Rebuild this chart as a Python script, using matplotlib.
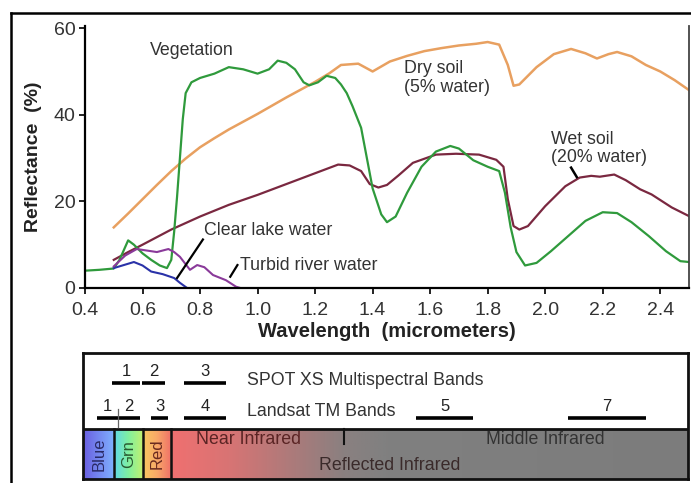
import numpy as np
import matplotlib
matplotlib.use("Agg")
import matplotlib.pyplot as plt
from matplotlib.lines import Line2D
from matplotlib.colors import to_rgb

plt.rcParams['font.family'] = ['Liberation Sans', 'DejaVu Sans']

# ---------------- data ----------------
veg_w = [0.40, 0.45, 0.50, 0.52, 0.55, 0.57, 0.60, 0.63, 0.66, 0.685, 0.70, 0.71, 0.72, 0.73,
         0.74, 0.75, 0.77, 0.80, 0.85, 0.90, 0.95, 1.00, 1.04, 1.07, 1.10, 1.13, 1.16, 1.18,
         1.21, 1.24, 1.27, 1.29, 1.31, 1.33, 1.36, 1.38, 1.40, 1.43, 1.45, 1.48, 1.52, 1.57,
         1.62, 1.67, 1.70, 1.75, 1.80, 1.84, 1.86, 1.88, 1.90, 1.93, 1.97, 2.02, 2.08, 2.14,
         2.20, 2.25, 2.30, 2.36, 2.42, 2.47, 2.50]
veg_r = [4.0, 4.2, 4.5, 6.5, 11.0, 10.0, 8.0, 6.5, 5.2, 4.6, 6.5, 13.0, 21.0, 30.0,
         39.0, 45.0, 47.5, 48.5, 49.5, 51.0, 50.5, 49.5, 50.5, 52.5, 52.0, 50.5, 47.5, 46.8,
         47.5, 49.0, 48.5, 47.0, 45.0, 42.0, 37.0, 30.0, 23.0, 17.0, 15.2, 16.5, 22.0, 28.0,
         31.5, 32.8, 32.2, 29.5, 28.0, 27.0, 22.0, 14.0, 8.3, 5.2, 5.8, 8.5, 12.0, 15.5,
         17.5, 17.3, 15.2, 12.0, 8.5, 6.2, 6.0]

dry_w = [0.50, 0.55, 0.60, 0.65, 0.70, 0.75, 0.80, 0.85, 0.90, 0.95, 1.00, 1.05, 1.10, 1.15,
         1.20, 1.25, 1.29, 1.35, 1.40, 1.46, 1.52,
         1.58, 1.64, 1.70, 1.76, 1.80, 1.84, 1.87, 1.89, 1.91, 1.94, 1.97, 2.03, 2.09, 2.14,
         2.18, 2.22, 2.25, 2.30, 2.35, 2.40, 2.45, 2.50]
dry_r = [14.0, 17.2, 20.5, 23.8, 27.0, 29.9, 32.5, 34.6, 36.6, 38.4, 40.2, 42.1, 44.0, 45.8,
         47.6, 49.6, 51.5, 51.8, 50.0, 52.3, 53.6,
         54.7, 55.4, 56.0, 56.4, 56.8, 56.2, 51.5, 46.7, 47.0, 49.0, 51.0, 54.0, 55.2, 54.2,
         53.0, 54.0, 54.5, 53.5, 51.5, 50.0, 48.0, 45.7]

wet_w = [0.50, 0.55, 0.60, 0.70, 0.80, 0.90, 1.00, 1.10, 1.20, 1.28, 1.32, 1.36, 1.39, 1.42,
         1.45, 1.49, 1.54, 1.62, 1.69, 1.77, 1.83, 1.855, 1.87, 1.89, 1.91, 1.94, 2.00, 2.07,
         2.12, 2.16, 2.19, 2.24, 2.28, 2.33, 2.37, 2.44, 2.50]
wet_r = [6.5, 8.3, 10.0, 13.5, 16.5, 19.2, 21.5, 24.0, 26.5, 28.5, 28.3, 27.0, 24.0, 23.2,
         23.8, 26.0, 28.9, 30.8, 31.0, 30.8, 29.6, 28.0, 20.5, 14.3, 13.5, 14.3, 18.9, 23.5,
         25.5, 25.9, 25.7, 26.2, 24.9, 22.8, 21.6, 18.6, 16.6]

lake_w = [0.50, 0.53, 0.57, 0.60, 0.63, 0.67, 0.71, 0.73, 0.755]
lake_r = [4.6, 5.2, 6.0, 5.2, 3.8, 3.2, 2.3, 1.2, 0.0]

river_w = [0.50, 0.54, 0.58, 0.62, 0.65, 0.69, 0.71, 0.73, 0.765, 0.79, 0.815, 0.845, 0.89,
           0.925, 0.94]
river_r = [5.0, 7.5, 9.0, 8.6, 8.3, 9.0, 8.3, 7.2, 4.2, 5.3, 4.8, 3.0, 1.8, 0.3, 0.0]

x_ticks = [0.4, 0.6, 0.8, 1.0, 1.2, 1.4, 1.6, 1.8, 2.0, 2.2, 2.4]
y_ticks = [0, 20, 40, 60]

spot_bands = [("1", 0.495, 0.59), ("2", 0.598, 0.678), ("3", 0.745, 0.89)]
tm_bands = [("1", 0.442, 0.515), ("2", 0.515, 0.592), ("3", 0.63, 0.69), ("4", 0.745, 0.89),
            ("5", 1.55, 1.75), ("7", 2.08, 2.35)]

# ---------------- layout ----------------
W, H = 691, 483
fig = plt.figure(figsize=(W / 100, H / 100), dpi=100)

def fx(px):
    return px / W

def fy(py):
    return 1 - py / H

ax_l, ax_r, ax_t, ax_b = 85, 689, 26, 288
ax = fig.add_axes([fx(ax_l), fy(ax_b), fx(ax_r - ax_l), (ax_b - ax_t) / H])
ax.set_xlim(0.4, 2.5)
ax.set_ylim(0, 60.5)

c_veg = '#2f9a3c'
c_dry = '#e8a060'
c_wet = '#7a2840'
c_lake = '#2a32a8'
c_river = '#8a3a9a'

ax.plot(dry_w, dry_r, color=c_dry, lw=1.8)
ax.plot(wet_w, wet_r, color=c_wet, lw=1.6)
ax.plot(veg_w, veg_r, color=c_veg, lw=1.6)
ax.plot(lake_w, lake_r, color=c_lake, lw=1.5)
ax.plot(river_w, river_r, color=c_river, lw=1.5)

ax.spines['top'].set_visible(False)
ax.spines['left'].set_linewidth(1.6)
ax.spines['bottom'].set_linewidth(1.6)
ax.spines['right'].set_linewidth(1.3)
ax.spines['right'].set_color('#444444')

ax.set_xticks(x_ticks)
ax.set_xticklabels([f"{t:.1f}" for t in x_ticks])
ax.set_yticks(y_ticks)
ax.tick_params(axis='both', direction='out', length=4, width=1.4, labelsize=14,
               labelcolor='#333333', color='#222222')
ax.tick_params(axis='x', pad=6)
ax.tick_params(axis='y', pad=3)
ax.set_xlabel('Wavelength  (micrometers)', fontsize=14.5, fontweight='bold', color='#222222',
              labelpad=2)
ax.set_ylabel('Reflectance  (%)', fontsize=14, fontweight='bold', color='#222222',
              labelpad=8)

tc = '#333333'
fs = 12.8
ax.text(0.625, 54.8, 'Vegetation', fontsize=fs, color=tc, va='center', ha='left')
ax.text(1.51, 48.5, 'Dry soil\n(5% water)', fontsize=fs, color=tc, va='center', ha='left',
        linespacing=1.1)
ax.text(2.02, 32.2, 'Wet soil\n(20% water)', fontsize=fs, color=tc, va='center', ha='left',
        linespacing=1.1)
ax.text(0.815, 13.2, 'Clear lake water', fontsize=fs, color=tc, va='center', ha='left')
ax.text(0.94, 5.3, 'Turbid river water', fontsize=fs, color=tc, va='center', ha='left')
ax.plot([0.72, 0.81], [2.3, 11.2], color='black', lw=1.6)
ax.plot([0.905, 0.93], [2.6, 5.3], color='black', lw=1.6)
ax.plot([2.09, 2.11], [27.8, 25.6], color='black', lw=1.8)

# ---------------- lower band panel ----------------
bl, br, bt, bb = 83, 688, 353, 479
scale = (ax_r - ax_l) / 2.1
x0 = 0.4 + (bl - ax_l) / scale
x1 = 0.4 + (br - ax_l) / scale
bx = fig.add_axes([fx(bl), fy(bb), fx(br - bl), (bb - bt) / H])
bx.set_xlim(x0, x1)
bx.set_ylim(0, 1)
bx.set_xticks([])
bx.set_yticks([])
for s in bx.spines.values():
    s.set_linewidth(2.0)
    s.set_color('#111111')

div = (bb - 429) / (bb - bt)

stops = [(x0, '#6a5ee0'), (0.5, '#7fb0ff'),
         (0.5001, '#5fd8e8'), (0.55, '#80f0a0'), (0.6, '#c0f070'),
         (0.6001, '#f8c860'), (0.65, '#f8a868'), (0.7, '#f07068'),
         (0.7001, '#f07070'), (0.9, '#d87474'), (1.1, '#b07a7a'), (1.3, '#8a8080'),
         (1.45, '#808080'), (x1, '#7c7c7c')]
xs = np.linspace(x0, x1, 1200)
sx = [s[0] for s in stops]
cols = np.array([to_rgb(s[1]) for s in stops])
img = np.stack([np.interp(xs, sx, cols[:, k]) for k in range(3)], axis=-1)[None, :, :]
bx.imshow(img, extent=[x0, x1, 0, div], aspect='auto', interpolation='bilinear', zorder=1)
bx.axhline(div, color='#111111', lw=2.0, zorder=3)
for xv in [0.5, 0.6, 0.7]:
    bx.plot([xv, xv], [0, div], color='#111111', lw=1.8, zorder=3)
bx.plot([1.3, 1.3], [div, div - 0.12], color='#111111', lw=1.5, zorder=3)

for lab, xc, col in [('Blue', 0.45, '#2a2a66'), ('Grn', 0.55, '#2a5a30'), ('Red', 0.65, '#6a2a20')]:
    bx.text(xc, div / 2, lab, rotation=90, ha='center', va='center', fontsize=12,
            color=col, zorder=4)
fs2 = 12.8
bx.text(0.97, 0.31, 'Near Infrared', ha='center', va='center', fontsize=fs2,
        color='#5a2424', zorder=4)
bx.text(2.0, 0.31, 'Middle Infrared', ha='center', va='center', fontsize=fs2,
        color='#333333', zorder=4)
bx.text(1.46, 0.11, 'Reflected Infrared', ha='center', va='center', fontsize=fs2,
        color='#3a2a2a', zorder=4)

y_spot = (bb - 383) / (bb - bt)
y_tm = (bb - 418) / (bb - bt)
for lab, a, b in spot_bands:
    bx.plot([a, b], [y_spot, y_spot], color='black', lw=2.6, solid_capstyle='butt', zorder=3)
    bx.text((a + b) / 2, y_spot + 0.035, lab, ha='center', va='bottom', fontsize=12,
            color='#222222')
for lab, a, b in tm_bands:
    bx.plot([a, b], [y_tm, y_tm], color='black', lw=2.6, solid_capstyle='butt', zorder=3)
    bx.text((a + b) / 2, y_tm + 0.035, lab, ha='center', va='bottom', fontsize=12,
            color='#222222')
bx.plot([0.515, 0.515], [y_tm - 0.07, y_tm + 0.07], color='#666666', lw=0.9, zorder=4)
bx.text(0.963, y_spot + 0.02, 'SPOT XS Multispectral Bands', ha='left', va='center',
        fontsize=fs2, color='#333333')
bx.text(0.963, y_tm + 0.05, 'Landsat TM Bands', ha='left', va='center', fontsize=fs2,
        color='#333333')

fig.add_artist(Line2D([fx(11), fx(11)], [fy(13), 0], color='black', lw=1.8,
                      transform=fig.transFigure))
fig.add_artist(Line2D([fx(11), 1.0], [fy(13), fy(13)], color='black', lw=1.8,
                      transform=fig.transFigure))

fig.savefig('out.png', dpi=100)
